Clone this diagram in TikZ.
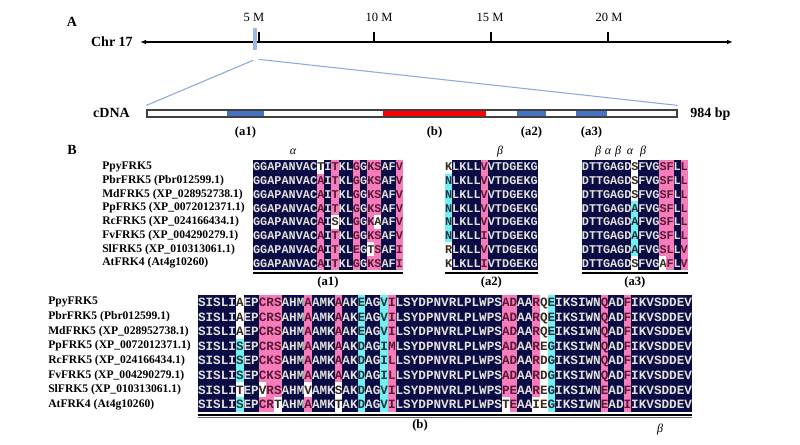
\documentclass[tikz,border=0pt]{standalone}
\usepackage{fontspec}
\usepackage{xstring}
\setmainfont{Liberation Serif}
\newfontfamily\seqfont{Liberation Mono}
\usetikzlibrary{arrows.meta}

\definecolor{bgn}{HTML}{0B0B46}
\definecolor{bgp}{HTML}{F77DBA}
\definecolor{bgc}{HTML}{6FF2F0}
\definecolor{bgw}{HTML}{FFFFFF}
\definecolor{fgn}{HTML}{E2E2DA}
\definecolor{fgp}{HTML}{5A1838}
\definecolor{fgc}{HTML}{283040}
\definecolor{fgw}{HTML}{3A2A20}
\definecolor{exonblue}{HTML}{4472C4}
\definecolor{markblue}{HTML}{9DB9E3}
\definecolor{zoomblue}{HTML}{8EAADB}

\tikzset{
  topcell/.style={inner sep=0, outer sep=0, minimum width=5.5pt, minimum height=10.5pt, text height=5.9pt, text depth=0pt, font=\fontsize{8.9pt}{10pt}\seqfont\bfseries},
  botcell/.style={inner sep=0, outer sep=0, minimum width=5.85pt, minimum height=11.1pt, text height=6.2pt, text depth=0pt, font=\fontsize{9.5pt}{11pt}\seqfont\bfseries},
  seqname/.style={anchor=west, inner sep=0, font=\fontsize{8.7pt}{10pt}\bfseries},
  panel/.style={font=\fontsize{10.5pt}{12pt}\bfseries},
  lbl/.style={inner sep=0, font=\fontsize{10.5pt}{12pt}\bfseries},
  ticklbl/.style={font=\fontsize{9.4pt}{11pt}\selectfont},
  lab/.style={inner sep=1pt, font=\fontsize{9.5pt}{11pt}\bfseries},
  greek/.style={font=\fontsize{9pt}{10pt}\itshape},
  uline/.style={line width=1.1pt},
  zoomline/.style={zoomblue, line width=0.8pt}
}

% style, x0, y, cell width, name, residues, colour codes
\newcommand\alnrow[7]{%
  \StrLen{#6}[\alnlen]%
  \foreach \j in {1,...,\alnlen}{%
    \StrChar{#6}{\j}[\alnres]\StrChar{#7}{\j}[\alncod]%
    \node[#1, fill=bg\alncod, text=fg\alncod] (#5-\j) at ({#2+#4*(\j-0.5)},{#3}) {\alnres};%
  }%
}

\begin{document}
\begin{tikzpicture}[x=0.75pt,y=-0.75pt]
  \useasboundingbox[fill=white] (0,0) rectangle (800,445);

  % A: chromosome and cDNA
  \node[panel] (pA) at (72,22) {A};
  \coordinate (chrL) at (140,42);
  \coordinate (chrR) at (733,42);
  \draw[{Latex[length=4.5pt,width=3.5pt]}-{Latex[length=4.5pt,width=3.5pt]}, line width=1pt] (chrL) -- (chrR);
  \node[lbl, anchor=east] (chr) at (133,42) {Chr 17};
  \foreach \x/\lx/\m in {259/254/5, 374/379/10, 491/490/15, 608/609/20}{
    \draw[line width=1pt] (\x,42) -- (\x,32);
    \node[ticklbl] (m\m) at (\lx,17) {\m\ M};
  }
  \node[fill=markblue, inner sep=0, minimum width=2.6pt, minimum height=16.5pt] (mark) at (255.2,39) {};

  \node[draw=black!75, line width=0.9pt, fill=white, inner sep=0, minimum width=397.5pt, minimum height=5.25pt] (cdna) at (412,113.5) {};
  \foreach \a/\b/\c/\lb [count=\i] in {227/264/exonblue/(a1), 383/486/red/(b), 517/546/exonblue/(a2), 576/607/exonblue/(a3)}{
    \fill[\c] (\a,110.6) rectangle (\b,116.4);
    \node[lab] (ex\i) at ({(\a+\b)/2},132) {\lb};
  }
  \node[lbl, anchor=east] (cd) at (130,113) {cDNA};
  \node[lbl, anchor=west] (bp) at (690,114) {984 bp};
  \draw[zoomline] ([yshift=-7.5pt]mark.south west) -- ([yshift=3pt]cdna.north west);
  \draw[zoomline] ([xshift=1pt,yshift=-6.8pt]mark.south east) -- ([yshift=3pt]cdna.north east);

  % B: alignments
  \node[panel] (pB) at (72,150) {B};
  \foreach \nm [count=\i] in {PpyFRK5, PbrFRK5 (Pbr012599.1), MdFRK5 (XP\_028952738.1), PpFRK5 (XP\_0072012371.1), RcFRK5 (XP\_024166434.1), FvFRK5 (XP\_004290279.1), SlFRK5 (XP\_010313061.1), AtFRK4 (At4g10260)}{
    \node[seqname] (tn\i) at (102,{160+13.75*(\i-0.5)}) {\nm};
    \node[seqname] (bn\i) at (48,{295+14.6*(\i-0.5)}) {\nm};
  }

  \foreach \sq/\cd [count=\i] in {
      GGAPANVACTITKLGGKSAFV/nnnnnnnnnwnpnnpnppnnp,
      GGAPANVACAITKLGGKSAFV/nnnnnnnnnpnpnnpnppnnp,
      GGAPANVACAITKLGGKSAFV/nnnnnnnnnpnpnnpnppnnp,
      GGAPANVACAITKLGGKSAFV/nnnnnnnnnpnpnnpnppnnp,
      GGAPANVACAISKLGGKAAFV/nnnnnnnnnpnwnnpnpwnnp,
      GGAPANVACAITKLGGKSAFV/nnnnnnnnnpnpnnpnppnnp,
      GGAPANVACAITKLEGTSAFI/nnnnnnnnnpnpnnpnwpnnp,
      GGAPANVACAITKLGGKSAFI/nnnnnnnnnpnpnnpnppnnp}
    {\alnrow{topcell}{253}{160+13.75*(\i-0.5)}{7.14}{a1r\i}{\sq}{\cd}}

  \foreach \sq/\cd [count=\i] in {
      KLKLLVVTDGEKG/wnnnnpnnnnnnn,
      NLKLLVVTDGEKG/cnnnnpnnnnnnn,
      NLKLLVVTDGEKG/cnnnnpnnnnnnn,
      NLKLLVVTDGEKG/cnnnnpnnnnnnn,
      NLKLLVVTDGEKG/cnnnnpnnnnnnn,
      NLKLLIVTDGEKG/cnnnnpnnnnnnn,
      RLKLLVVTDGEKG/wnnnnpnnnnnnn,
      KLKLLIVTDGEKG/wnnnnpnnnnnnn}
    {\alnrow{topcell}{445}{160+13.75*(\i-0.5)}{7.14}{a2r\i}{\sq}{\cd}}

  \foreach \sq/\cd [count=\i] in {
      DTTGAGDSFVGSFLL/nnnnnnnwnnnppnp,
      DTTGAGDSFVGSFLL/nnnnnnnwnnnppnp,
      DTTGAGDSFVGSFLL/nnnnnnnwnnnppnp,
      DTTGAGDAFVGSFLL/nnnnnnncnnnppnp,
      DTTGAGDAFVGSFLL/nnnnnnncnnnppnp,
      DTTGAGDAFVGSFLL/nnnnnnncnnnppnp,
      DTTGAGDAFVGSLLV/nnnnnnncnnnppnp,
      DTTGAGDSFVGAFLV/nnnnnnnwnnnwpnp}
    {\alnrow{topcell}{582}{160+13.75*(\i-0.5)}{7.05}{a3r\i}{\sq}{\cd}}

  \foreach \sq/\cd [count=\i] in {
      SISLIAEPCRSAHMAAMKAAKEAGVILSYDPNVRLPLWPSADAARQEIKSIWNQADFIKVSDDEV/nnnnnwnnpppnnnpnnnpnncnncpnnnnnnnnnnnnnnppnnpwcnnnnnnpnnpnnnnnnnn,
      SISLIAEPCRSAHMAAMKAAKEAGVILSYDPNVRLPLWPSADAARQEIKSIWNQADFIKVSDDEV/nnnnnwnnpppnnnpnnnpnncnncpnnnnnnnnnnnnnnppnnpwcnnnnnnpnnpnnnnnnnn,
      SISLIAEPCRSAHMAAMKAAKEAGVILSYDPNVRLPLWPSADAARQEIKSIWNQADFIKVSDDEV/nnnnnwnnpppnnnpnnnpnncnncpnnnnnnnnnnnnnnppnnpwcnnnnnnpnnpnnnnnnnn,
      SISLISEPCRSAHMAAMKAAKDAGIMLSYDPNVRLPLWPSADAAREGIKSIWNQADFIKVSDDEV/nnnnncnnpppnnnpnnnpnncnncpnnnnnnnnnnnnnnppnnpwcnnnnnnpnnpnnnnnnnn,
      SISLISEPCKSAHMAAMKAAKDAGILLSYDPNVRLPLWPSADAARDGIKSIWNQADFIKVSDDEV/nnnnncnnpppnnnpnnnpnncnncpnnnnnnnnnnnnnnppnnpwcnnnnnnpnnpnnnnnnnn,
      SISLISEPCKSAHMAAMKAAKDAGILLSYDPNVRLPLWPSADAARDGIKSIWNQADFIKVSDDEV/nnnnncnnpppnnnpnnnpnncnncpnnnnnnnnnnnnnnppnnpwcnnnnnnpnnpnnnnnnnn,
      SISLITEPVRSAHMVAMKSAKDAGVILSYDPNVRLPLWPSPEAAREGIKSIWNEADFIKVSDDEV/nnnnnwnnwppnnnwnnnwnncnncpnnnnnnnnnnnnnnppnnpwcnnnnnnpnnpnnnnnnnn,
      SISLISEPCRTAHMAAMKTAKDAGVILSYDPNVRLPLWPSTEAAIEGIKSIWNEADIIKVSDDEV/nnnnncnnppwnnnpnnnwnncnncpnnnnnnnnnnnnnnwpnnwwcnnnnnnpnnpnnnnnnnn}
    {\alnrow{botcell}{198}{295+14.6*(\i-0.5)}{7.6}{br\i}{\sq}{\cd}}

  \draw[uline] ([yshift=-2.2pt]a1r8-1.south west) -- ([yshift=-2.2pt]a1r8-21.south east) node[midway, below=1pt, lab] (la1) {(a1)};
  \draw[uline] ([yshift=-2.2pt]a2r8-1.south west) -- ([yshift=-2.2pt]a2r8-13.south east) node[midway, below=1pt, lab] (la2) {(a2)};
  \draw[uline] ([yshift=-2.2pt]a3r8-1.south west) -- ([yshift=-2.2pt]a3r8-15.south east) node[midway, below=1pt, lab] (la3) {(a3)};
  \draw[uline] ([yshift=-2.2pt]br8-1.south west) -- ([yshift=-2.2pt]br8-65.south east);
  \draw[line width=0.5pt, black!60] ([yshift=-4.2pt]br8-1.south west) -- ([yshift=-4.2pt]br8-65.south east);
  \node[lab] (lb) at (420,425) {(b)};

  \node[greek] (ga1) at (293,152) {α};
  \node[greek] (ga2) at (500,152) {β};
  \foreach \x/\g [count=\i] in {598/β, 608/α, 618/β, 630/α, 643/β}
    \node[greek] (ga3\i) at (\x,152) {\g};
  \node[greek] (gb) at (660,430) {β};
\end{tikzpicture}
\end{document}
